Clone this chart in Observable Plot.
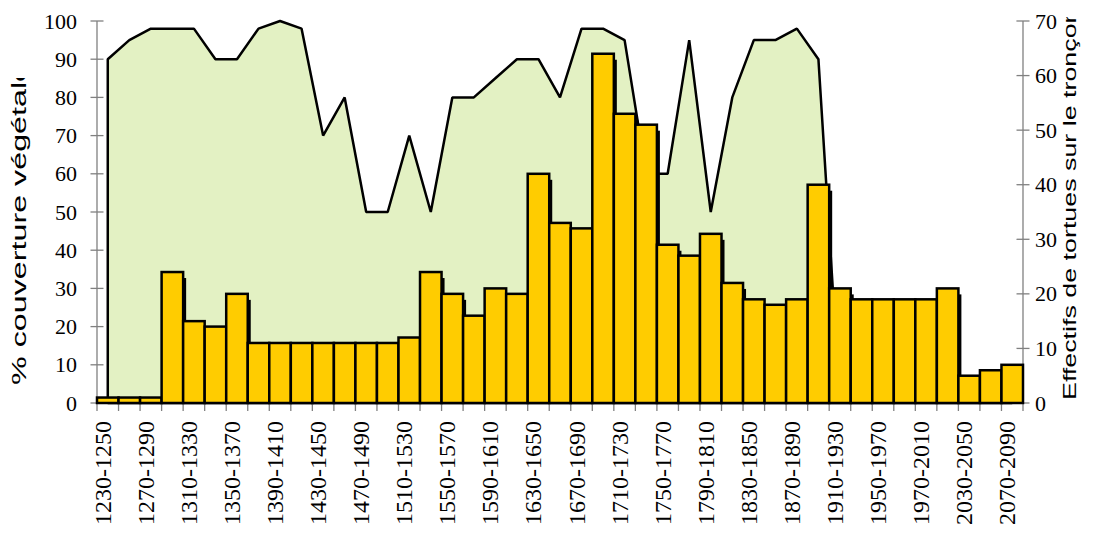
<!DOCTYPE html>
<html><head><meta charset="utf-8">
<script src="https://cdn.jsdelivr.net/npm/d3@7"></script>
<script src="https://cdn.jsdelivr.net/npm/@observablehq/plot@0.6"></script>
<style>
html,body{margin:0;padding:0;background:#fff;}
#chart svg{display:block}
text.serif-label{font-family:"Liberation Serif" !important;}
</style></head>
<body>
<div id="chart"></div>
<script>
const periods = ["1230-1250","1250-1270","1270-1290","1290-1310","1310-1330","1330-1350","1350-1370","1370-1390","1390-1410","1410-1430","1430-1450","1450-1470","1470-1490","1490-1510","1510-1530","1530-1550","1550-1570","1570-1590","1590-1610","1610-1630","1630-1650","1650-1670","1670-1690","1690-1710","1710-1730","1730-1750","1750-1770","1770-1790","1790-1810","1810-1830","1830-1850","1850-1870","1870-1890","1890-1910","1910-1930","1930-1950","1950-1970","1970-1990","1970-2010","2010-2030","2030-2050","2050-2070","2070-2090"];
// % couverture végétale (left axis)
const vegetation = [90,95,98,98,98,90,90,98,100,98,70,80,50,50,70,50,80,80,85,90,90,80,98,98,95,60,60,95,50,80,95,95,98,90,0,0,0,0,0,0,0,0,0];
// Effectifs de tortues (right axis)
const turtles = [1,1,1,24,15,14,20,11,11,11,11,11,11,11,12,24,20,16,21,20,42,33,32,64,53,51,29,27,31,22,19,18,19,40,21,19,19,19,19,21,5,6,7];
const labeledPeriods = ["1230-1250","1270-1290","1310-1330","1350-1370","1390-1410","1430-1450","1470-1490","1510-1530","1550-1570","1590-1610","1630-1650","1670-1690","1710-1730","1750-1770","1790-1810","1830-1850","1870-1890","1910-1930","1950-1970","1970-2010","2030-2050","2070-2090"];
const leftTicks = [0,10,20,30,40,50,60,70,80,90,100];
const rightTicks = [0,10,20,30,40,50,60,70];
const leftTitle = "% couverture végétale";
const rightTitle = "Effectifs de tortues sur le tronçon";

const rows = periods.map((p, i) => ({period: p, veg: vegetation[i], turtles: turtles[i]}));
const toLeft = d3.scaleLinear([0, 70], [0, 100]);

const chart = Plot.plot({
  width: 1093, height: 537,
  marginTop: 21, marginBottom: 134, marginLeft: 97, marginRight: 70,
  style: {background: "#fff", color: "#000", overflow: "visible"},
  x: {type: "band", domain: periods, paddingInner: 0, paddingOuter: 0, round: false, label: null, axis: null},
  y: {domain: [0, 100], label: null, axis: null},
  marks: [
    Plot.areaY(rows, {x: "period", y: "veg", fill: "#e3f1c3", stroke: "#000", strokeWidth: 2.5, strokeLinejoin: "miter"}),
    Plot.barY(rows, {x: "period", y: d => toLeft(d.turtles), fill: "#000", dx: 3, dy: 6, clip: true}),
    Plot.barY(rows, {x: "period", y: d => toLeft(d.turtles), fill: "#FFCC00", stroke: "#000", strokeWidth: 2.5})
  ]
});
chart.setAttribute("font-family", "Liberation Serif");
document.getElementById("chart").appendChild(chart);

const svg = d3.select(chart);
const xs = chart.scale("x"), ys = chart.scale("y");
const [xL, xR] = xs.range;
const yB = ys.apply(0), yT = ys.apply(100);

// axis lines and cross tick marks, placed under the bars
const firstBar = chart.querySelector('g[aria-label="bar"]');
const ax = svg.insert("g", () => firstBar).attr("stroke", "#808080").attr("stroke-width", 1.3);
ax.append("line").attr("x1", xL).attr("x2", xL).attr("y1", yT).attr("y2", yB);
ax.append("line").attr("x1", xR).attr("x2", xR).attr("y1", yT).attr("y2", yB);
ax.append("line").attr("x1", xL).attr("x2", xR).attr("y1", yB).attr("y2", yB);
leftTicks.forEach(v => ax.append("line").attr("x1", xL - 6.5).attr("x2", xL + 6.5).attr("y1", ys.apply(v)).attr("y2", ys.apply(v)));
rightTicks.forEach(v => ax.append("line").attr("x1", xR - 6.5).attr("x2", xR + 6.5).attr("y1", ys.apply(toLeft(v))).attr("y2", ys.apply(toLeft(v))));
periods.concat([null]).forEach(p => {
  const xp = p === null ? xR : xs.apply(p);
  ax.append("line").attr("x1", xp).attr("x2", xp).attr("y1", yB - 4).attr("y2", yB + 8);
});

// tick labels (serif), positioned with the plot's scales
function serifText(str, size) {
  return svg.append("text").text(str).attr("class", "serif-label")
    .attr("font-family", "Liberation Serif").attr("fill", "#000")
    .style("font", `${size}px "Liberation Serif"`);
}
leftTicks.forEach(v => serifText(String(v), 22)
  .attr("x", xL - 20).attr("y", ys.apply(v) + 7.5).attr("text-anchor", "end"));
rightTicks.forEach(v => serifText(String(v), 22)
  .attr("x", xR + 12).attr("y", ys.apply(toLeft(v)) + 7.5).attr("text-anchor", "start"));
labeledPeriods.forEach(p => serifText(p, 24)
  .attr("transform", `translate(${xs.apply(p) + xs.bandwidth / 2 + 3},${yB + 18}) rotate(-90)`)
  .attr("text-anchor", "end"));

// axis titles (rotated, clipped at the top as in the original)
const defs = svg.append("defs");
defs.append("clipPath").attr("id", "clipL").append("rect").attr("x", 0).attr("y", 78).attr("width", 60).attr("height", 460);
defs.append("clipPath").attr("id", "clipR").append("rect").attr("x", 1040).attr("y", 17).attr("width", 53).attr("height", 520);
svg.append("g").attr("clip-path", "url(#clipL)")
  .append("text").text(leftTitle)
  .attr("text-anchor", "start").attr("font-family", "Liberation Sans")
  .attr("transform", "translate(26,385) rotate(-90) scale(1.655,1)")
  .style("font-family", '"Liberation Sans"').style("font-size", "19.5px").attr("fill", "#000");
svg.append("g").attr("clip-path", "url(#clipR)")
  .append("text").text(rightTitle)
  .attr("text-anchor", "start").attr("font-family", "Liberation Sans")
  .attr("transform", "translate(1076,400) rotate(-90) scale(1.45,1)")
  .style("font-family", '"Liberation Sans"').style("font-size", "18.5px").attr("fill", "#000");
</script>
</body></html>
